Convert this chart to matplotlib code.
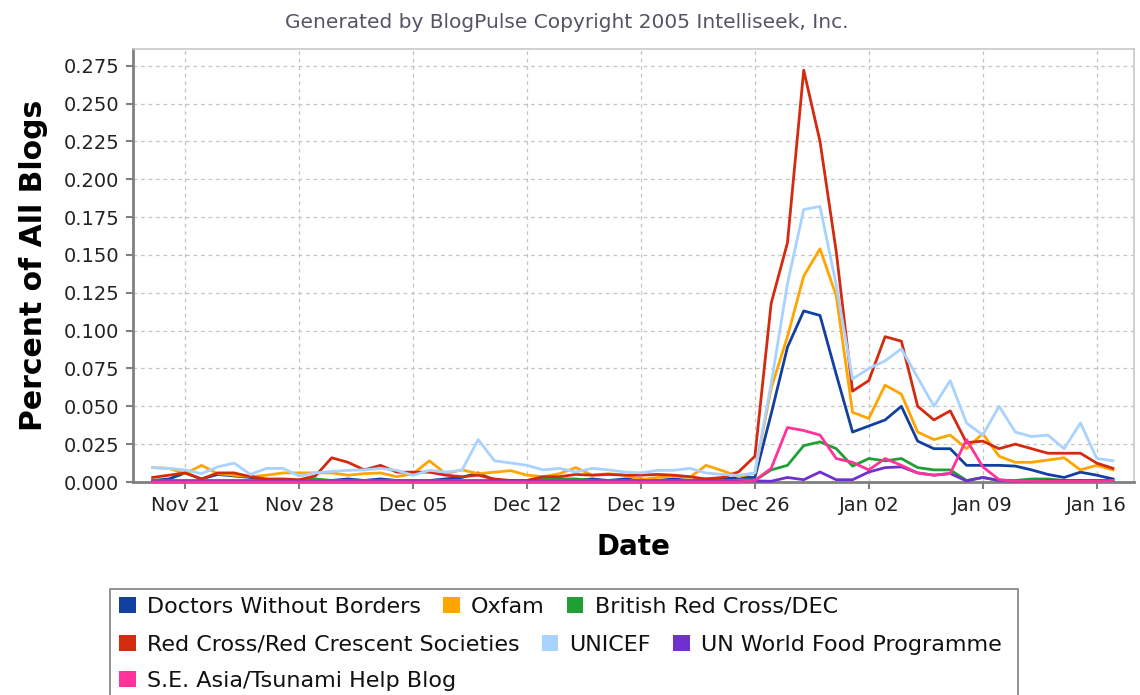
import numpy as np
import pandas as pd
import matplotlib
matplotlib.use("Agg")
import matplotlib.pyplot as plt
import matplotlib.dates as mdates
from matplotlib.patches import Patch, Rectangle
from matplotlib.ticker import FormatStrFormatter, MultipleLocator

dates = pd.date_range("2004-11-19", periods=60, freq="D")

series_names = ["Doctors Without Borders", "Oxfam", "British Red Cross/DEC",
                "Red Cross/Red Crescent Societies", "UNICEF",
                "UN World Food Programme", "S.E. Asia/Tsunami Help Blog"]

dwb = [0.001, 0.002, 0.006, 0.002, 0.005, 0.004, 0.003, 0.001, 0.001, 0.001,
       0.001, 0.001, 0.002, 0.001, 0.002, 0.001, 0.001, 0.001, 0.002, 0.003,
       0.006, 0.001, 0.001, 0.001, 0.002, 0.001, 0.001, 0.002, 0.001, 0.002,
       0.002, 0.001, 0.002, 0.001, 0.002, 0.002, 0.003, 0.003, 0.045, 0.089,
       0.113, 0.110, 0.071, 0.033, 0.037, 0.041, 0.050, 0.027, 0.022, 0.022,
       0.011, 0.011, 0.011, 0.0105, 0.008, 0.005, 0.003, 0.0065, 0.0045, 0.002]

oxfam = [0.0095, 0.009, 0.0055, 0.011, 0.0055, 0.0045, 0.0035, 0.0045, 0.006, 0.006,
         0.006, 0.006, 0.0045, 0.0055, 0.006, 0.0035, 0.0055, 0.014, 0.0055, 0.008,
         0.0055, 0.0065, 0.0075, 0.0045, 0.0035, 0.0055, 0.0095, 0.0045, 0.0055, 0.0045,
         0.0015, 0.003, 0.004, 0.003, 0.011, 0.0075, 0.0035, 0.006, 0.062, 0.096,
         0.136, 0.154, 0.123, 0.046, 0.042, 0.064, 0.058, 0.033, 0.028, 0.031,
         0.022, 0.032, 0.017, 0.013, 0.013, 0.0145, 0.016, 0.008, 0.011, 0.008]

brc = [0.001, 0.001, 0.001, 0.001, 0.001, 0.001, 0.001, 0.001, 0.001, 0.001,
       0.002, 0.001, 0.001, 0.001, 0.001, 0.001, 0.001, 0.001, 0.001, 0.001,
       0.001, 0.001, 0.001, 0.001, 0.002, 0.002, 0.002, 0.001, 0.001, 0.001,
       0.001, 0.001, 0.001, 0.001, 0.001, 0.001, 0.001, 0.001, 0.008, 0.011,
       0.024, 0.0265, 0.022, 0.0105, 0.0155, 0.014, 0.0155, 0.0095, 0.008, 0.008,
       0.001, 0.003, 0.001, 0.001, 0.002, 0.002, 0.001, 0.001, 0.001, 0.001]

redcross = [0.003, 0.0045, 0.006, 0.002, 0.006, 0.006, 0.0035, 0.002, 0.002, 0.0015,
            0.004, 0.016, 0.013, 0.008, 0.011, 0.0065, 0.0065, 0.0065, 0.0045, 0.0035,
            0.0045, 0.002, 0.001, 0.001, 0.0035, 0.0035, 0.005, 0.0045, 0.005, 0.0045,
            0.0045, 0.005, 0.0045, 0.0035, 0.002, 0.003, 0.0067, 0.017, 0.118, 0.158,
            0.272, 0.225, 0.152, 0.060, 0.067, 0.096, 0.093, 0.050, 0.041, 0.047,
            0.026, 0.027, 0.022, 0.025, 0.022, 0.019, 0.019, 0.019, 0.0125, 0.009]

unicef = [0.0095, 0.009, 0.008, 0.0055, 0.010, 0.0125, 0.005, 0.009, 0.009, 0.004,
          0.006, 0.007, 0.0077, 0.008, 0.009, 0.0077, 0.0044, 0.0077, 0.0066, 0.0077,
          0.028, 0.014, 0.0126, 0.011, 0.008, 0.009, 0.0066, 0.009, 0.008, 0.0066,
          0.006, 0.0077, 0.0077, 0.009, 0.006, 0.005, 0.0044, 0.006, 0.065, 0.131,
          0.180, 0.182, 0.130, 0.068, 0.075, 0.080, 0.088, 0.069, 0.050, 0.067,
          0.039, 0.031, 0.050, 0.033, 0.030, 0.031, 0.022, 0.039, 0.0156, 0.014]

wfp = [0.0005] * 37 + [0.0007, 0.0005, 0.003,
       0.0015, 0.0066, 0.0015, 0.0015, 0.0066, 0.0095, 0.010, 0.006, 0.0045, 0.0056,
       0.0007, 0.003, 0.001, 0.0005, 0.0005, 0.001, 0.001, 0.001, 0.001, 0.001]

seasia = [0.0] * 37 + [0.001, 0.009, 0.036,
          0.034, 0.031, 0.0155, 0.013, 0.008, 0.0155, 0.011, 0.006, 0.0045, 0.0056,
          0.028, 0.010, 0.0016, 0.0005, 0.0005, 0.0005, 0.0005, 0.0005, 0.0005, 0.001]

colors = ["#1240a0", "#ffa500", "#1ea034", "#d42a10", "#a8d2ff", "#7030d0", "#ff3399"]
all_series = [dwb, oxfam, brc, redcross, unicef, wfp, seasia]

fig = plt.figure(figsize=(11.4, 6.95), dpi=100)
ax = fig.add_axes([133 / 1140, 1 - 482 / 695, (1134 - 133) / 1140, (482 - 49) / 695])

for vals, c, name in zip(all_series, colors, series_names):
    ax.plot(dates, vals, color=c, lw=2.0, label=name, clip_on=False, zorder=3)

ax.set_xlim(pd.Timestamp("2004-11-17 19:00"), pd.Timestamp("2005-01-18 07:00"))
ax.set_ylim(0, 0.286)
ax.yaxis.set_major_locator(MultipleLocator(0.025))
ax.yaxis.set_major_formatter(FormatStrFormatter("%.3f"))
ax.xaxis.set_major_locator(mdates.WeekdayLocator(byweekday=mdates.SU))
ax.xaxis.set_major_formatter(mdates.DateFormatter("%b %d"))

ax.grid(True, color="#c4c4c4", linestyle=(0, (3, 3)), lw=0.9)
ax.set_axisbelow(True)
for s in ["top", "right"]:
    ax.spines[s].set_color("#c8c8c8")
    ax.spines[s].set_linewidth(1.2)
for s in ["left", "bottom"]:
    ax.spines[s].set_color("#808080")
    ax.spines[s].set_linewidth(2.0)
ax.tick_params(axis="both", direction="out", length=5, width=1.5, color="#808080",
               labelsize=14, labelcolor="#222222", pad=5)

ax.set_ylabel("Percent of All Blogs", fontsize=21.5, fontweight="bold", labelpad=11)
ax.set_xlabel("Date", fontsize=20, fontweight="bold", labelpad=13)

fig.text(567 / 1140, 1 - 22 / 695, "Generated by BlogPulse Copyright 2005 Intelliseek, Inc.",
         ha="center", va="center", fontsize=14.5, color="#555566")

# legend frame
fig.patches.append(Rectangle((110 / 1140, -0.02), (1018 - 110) / 1140, (0.02 + 1 - 589 / 695),
                             transform=fig.transFigure, facecolor="white",
                             edgecolor="#808080", lw=1.2))

rows = [[0, 1, 2], [3, 4, 5], [6]]
row_y = [607, 645, 681]
for r, yy in zip(rows, row_y):
    handles = [Patch(facecolor=colors[i], edgecolor="none") for i in r]
    labels = [series_names[i] for i in r]
    leg = fig.legend(handles, labels, loc="center left",
                     bbox_to_anchor=(119 / 1140, 1 - yy / 695), ncol=len(r),
                     frameon=False, fontsize=16, handlelength=0.75, handleheight=0.75,
                     handletextpad=0.5, columnspacing=1.0, borderaxespad=0, borderpad=0)
    for t in leg.get_texts():
        t.set_color("#111111")

fig.savefig("out.png", dpi=100)
